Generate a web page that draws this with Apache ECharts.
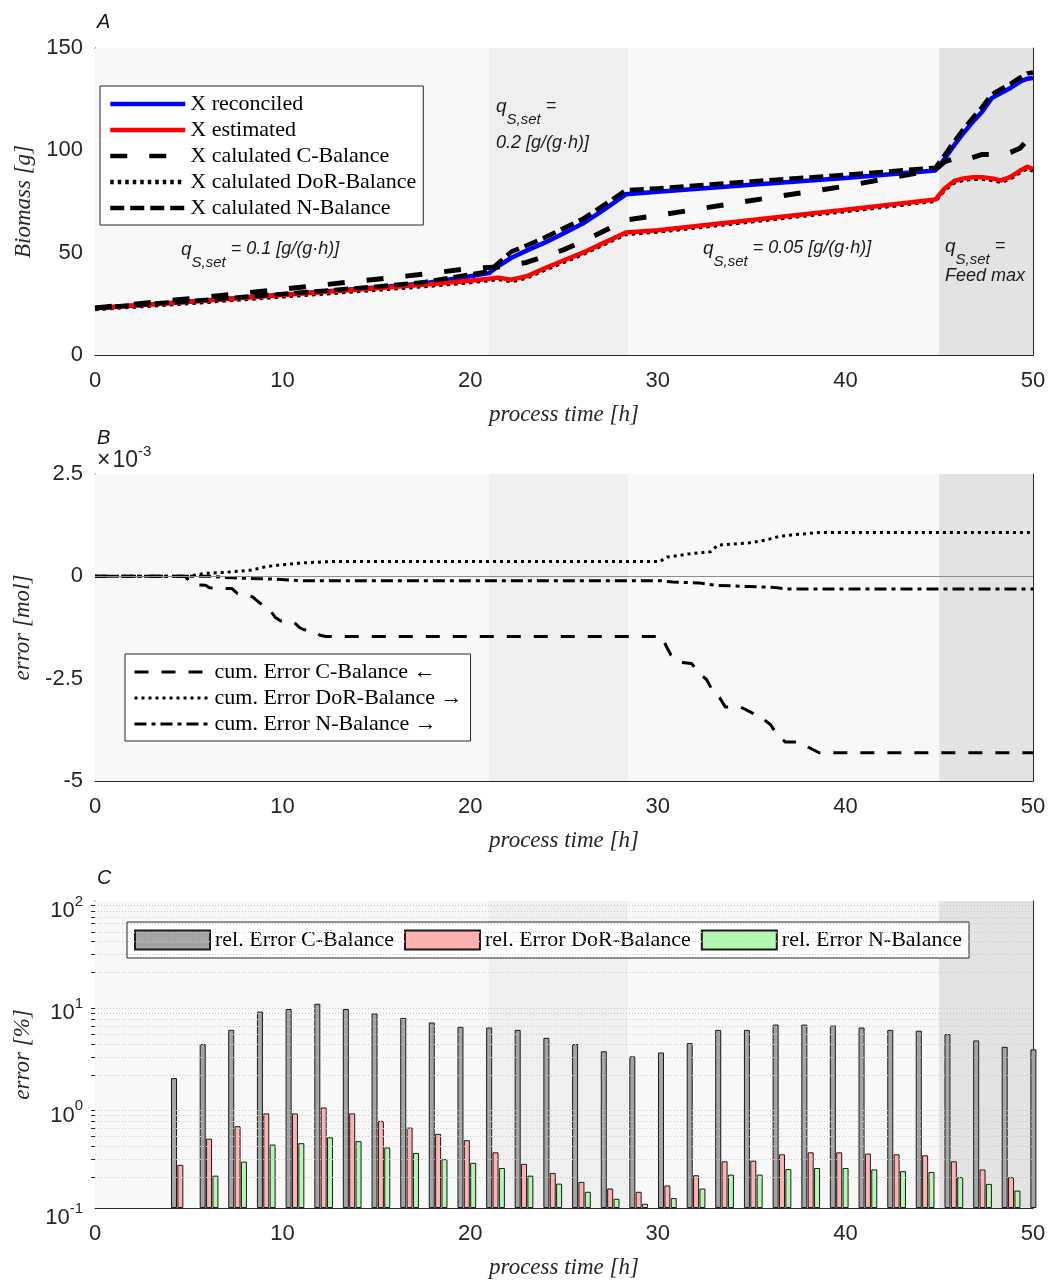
<!DOCTYPE html>
<html><head><meta charset="utf-8">
<script src="https://cdn.jsdelivr.net/npm/echarts@6/dist/echarts.min.js"></script>
<style>html,body{margin:0;padding:0;background:#fff}#c{width:1050px;height:1284px}</style>
</head><body><div id="c"></div>
<script>
// ---------- Panel A: biomass [g] ----------
const timeA = [0, 5, 10, 15, 17.5, 20, 21, 21.5, 22.2, 23, 24, 25, 26, 27, 28.3, 30, 35, 40, 44.8, 45.3, 45.8, 46.3, 46.8, 47.3, 47.8, 48.3, 48.8, 49.3, 49.7, 50];
const xReconciled = [22.8, 26.0, 29.5, 33.0, 35.0, 38.5, 40.0, 43.5, 47.5, 51.0, 55.0, 59.5, 64.2, 70.2, 78.5, 79.8, 83.2, 86.5, 90.2, 96.0, 102.5, 108.5, 114.0, 119.0, 125.5, 128.0, 130.5, 133.5, 135.0, 135.3];
const xEstimated = [22.8, 26.0, 29.3, 32.6, 34.3, 36.3, 37.3, 37.8, 36.8, 38.5, 42.5, 46.3, 50.0, 54.3, 59.8, 61.0, 66.0, 71.0, 76.0, 81.5, 85.0, 86.3, 86.8, 86.8, 86.3, 85.3, 87.0, 90.0, 92.0, 90.8];
const xCBalance = [23.0, 27.5, 32.2, 37.0, 39.5, 42.3, 42.8, 43.0, 44.0, 45.2, 48.2, 51.5, 55.5, 60.0, 66.0, 68.2, 75.5, 82.5, 90.5, 94.5, 96.0, 95.0, 96.5, 98.0, 98.0, 97.8, 99.0, 101.0, 105.0, 102.0];
const xDoRBalance = [22.2, 25.2, 28.4, 31.7, 33.4, 35.4, 36.4, 36.9, 35.9, 37.6, 41.6, 45.4, 49.1, 53.4, 58.9, 60.1, 65.1, 70.1, 75.1, 80.6, 84.1, 85.4, 85.9, 85.9, 85.4, 84.4, 86.1, 89.1, 91.1, 89.9];
const xNBalance = [23.0, 26.3, 29.8, 33.4, 35.5, 39.4, 40.8, 45.0, 50.5, 53.5, 57.5, 62.0, 66.5, 72.5, 80.5, 81.4, 84.8, 88.0, 91.5, 97.8, 104.3, 110.5, 116.0, 121.2, 127.3, 130.0, 132.5, 135.5, 137.5, 138.0];

// ---------- Panel B: cumulative error [x1e-3 mol] ----------
const timeCumC = [0, 4.8, 5.2, 5.9, 6.1, 7.3, 7.6, 7.9, 8.4, 8.7, 9.0, 9.3, 9.6, 9.9, 10.6, 10.9, 11.1, 11.7, 12.0, 12.3, 30.2, 30.5, 30.7, 31.2, 31.8, 32.2, 32.6, 32.9, 33.3, 33.6, 34.4, 35.0, 35.5, 36.0, 36.3, 36.8, 37.5, 38.0, 38.6, 50];
const cumErrC = [0, 0, -0.2, -0.22, -0.28, -0.3, -0.42, -0.46, -0.5, -0.62, -0.73, -0.8, -1.0, -1.09, -1.12, -1.25, -1.3, -1.35, -1.44, -1.47, -1.47, -1.75, -1.92, -2.1, -2.13, -2.37, -2.52, -2.78, -2.97, -3.19, -3.19, -3.33, -3.44, -3.62, -3.82, -4.05, -4.05, -4.17, -4.31, -4.31];
const timeCumDoR = [0, 5.0, 5.8, 7.0, 8.3, 9.15, 9.9, 11.1, 12.5, 30.1, 30.5, 31.7, 32.8, 33.2, 34.9, 35.8, 36.5, 37.6, 38.6, 50];
const cumErrDoR = [0, 0, 0.07, 0.1, 0.15, 0.24, 0.28, 0.33, 0.36, 0.36, 0.47, 0.55, 0.6, 0.76, 0.82, 0.89, 0.98, 1.03, 1.07, 1.07];
const timeCumN = [0, 6.1, 7.0, 8.8, 9.7, 11.1, 30.2, 30.8, 32.2, 33.1, 34.9, 36.2, 36.9, 50];
const cumErrN = [0, 0, -0.03, -0.06, -0.07, -0.11, -0.11, -0.14, -0.16, -0.22, -0.25, -0.27, -0.31, -0.31];

// ---------- Panel C: relative error [%] ----------
const sampleTimes = [4.55, 6.08, 7.60, 9.13, 10.66, 12.19, 13.71, 15.24, 16.77, 18.29, 19.82, 21.35, 22.87, 24.40, 25.93, 27.46, 28.98, 30.51, 32.04, 33.56, 35.09, 36.62, 38.15, 39.67, 41.20, 42.73, 44.25, 45.78, 47.31, 48.83, 50.36];
const relErrC = [1.86, 4.0, 5.5, 8.3, 8.8, 9.9, 8.8, 7.95, 7.2, 6.5, 5.9, 5.8, 5.5, 4.6, 4.0, 3.4, 3.03, 3.31, 4.09, 5.5, 5.5, 6.2, 6.2, 6.07, 5.8, 5.5, 5.4, 5.0, 4.34, 3.76, 3.55];
const relErrDoR = [0.264, 0.476, 0.63, 0.84, 0.84, 0.96, 0.84, 0.71, 0.61, 0.53, 0.46, 0.35, 0.27, 0.22, 0.18, 0.155, 0.144, 0.166, 0.209, 0.286, 0.29, 0.335, 0.35, 0.35, 0.34, 0.335, 0.327, 0.286, 0.238, 0.20, null];
const relErrN = [null, 0.207, 0.284, 0.417, 0.43, 0.49, 0.45, 0.39, 0.345, 0.30, 0.276, 0.246, 0.207, 0.173, 0.144, 0.123, 0.11, 0.125, 0.155, 0.212, 0.212, 0.24, 0.246, 0.246, 0.238, 0.229, 0.225, 0.20, 0.172, 0.148, null];

// ---------- phases, ticks ----------
const phaseBounds = [21, 28.4, 45, 50];
const xTicks = {min: 0, max: 50, interval: 10};
const minorLogTicks = [0.2, 0.3, 0.4, 0.5, 0.6, 0.7, 0.8, 0.9, 2, 3, 4, 5, 6, 7, 8, 9, 20, 30, 40, 50, 60, 70, 80, 90];

const SANS = 'Liberation Sans', SERIF = 'Liberation Serif';
const INK = '#262626', GRIDC = '#dcdcdc';
const pairs = (xs, ys) => xs.map((x, i) => [x, ys[i] == null ? '-' : ys[i]]);

const chart = echarts.init(document.getElementById('c'), null, {renderer: 'canvas', width: 1050, height: 1284});

const tops = [48, 474, 901];
const grid = tops.map(t => ({left: 95, right: 17, top: t, height: 307, containLabel: false, outerBoundsMode: 'none'}));

const tickStyle = {show: true, inside: true, length: 8, lineStyle: {color: INK, width: 1}};
const lineStyleAxis = {show: true, onZero: false, lineStyle: {color: INK, width: 1}};
const nameStyle = {fontFamily: SERIF, fontStyle: 'italic', fontSize: 23, color: INK};
const labelStyle = {fontFamily: SANS, fontSize: 22, color: INK};

const xAxis = [];
[0, 1, 2].forEach(i => xAxis.push({
  type: 'value', gridIndex: i, position: 'bottom', min: xTicks.min, max: xTicks.max, interval: xTicks.interval,
  axisLine: lineStyleAxis, axisTick: tickStyle,
  axisLabel: Object.assign({margin: 15}, labelStyle),
  splitLine: {show: true, lineStyle: {color: GRIDC, width: 1}},
  name: 'process time [h]', nameLocation: 'middle', nameGap: 48, nameTextStyle: nameStyle
}));
[0, 1, 2].forEach(i => xAxis.push({
  type: 'value', gridIndex: i, position: 'top', min: xTicks.min, max: xTicks.max, interval: xTicks.interval,
  axisLine: lineStyleAxis, axisTick: tickStyle, axisLabel: {show: false}, splitLine: {show: false}
}));

const yName = (n) => ({name: n, nameLocation: 'middle', nameGap: 53, nameRotate: 90, nameTextStyle: nameStyle});
const logLabel = {
  margin: 12, padding: [14, 0, 0, 0],
  formatter: v => '{b|10}{e|' + Math.round(Math.log10(v)) + '}',
  rich: {
    b: {fontFamily: SANS, fontSize: 22, color: INK, verticalAlign: 'bottom', lineHeight: 28},
    e: {fontFamily: SANS, fontSize: 15, color: INK, verticalAlign: 'top', lineHeight: 28}
  }
};
const yAxis = [
  Object.assign({type: 'value', gridIndex: 0, position: 'left', min: 0, max: 150, interval: 50,
    axisLine: lineStyleAxis, axisTick: tickStyle, axisLabel: Object.assign({margin: 12}, labelStyle),
    splitLine: {show: true, lineStyle: {color: GRIDC, width: 1}}}, yName('Biomass [g]')),
  Object.assign({type: 'value', gridIndex: 1, position: 'left', min: -5, max: 2.5, interval: 2.5,
    axisLine: lineStyleAxis, axisTick: tickStyle, axisLabel: Object.assign({margin: 12}, labelStyle),
    splitLine: {show: true, lineStyle: {color: GRIDC, width: 1}}}, yName('error [mol]')),
  Object.assign({type: 'log', logBase: 10, gridIndex: 2, position: 'left', min: 0.1, max: 100, startValue: 0.1,
    axisLine: lineStyleAxis, axisTick: tickStyle, axisLabel: logLabel,
    splitLine: {show: true, lineStyle: {color: GRIDC, width: 1}}}, yName('error [%]')),
  {type: 'value', gridIndex: 0, position: 'right', min: 0, max: 150, interval: 50, axisLine: lineStyleAxis, axisTick: tickStyle, axisLabel: {show: false}, splitLine: {show: false}},
  {type: 'value', gridIndex: 1, position: 'right', min: -5, max: 2.5, interval: 2.5, axisLine: lineStyleAxis, axisTick: tickStyle, axisLabel: {show: false}, splitLine: {show: false}},
  {type: 'log', logBase: 10, gridIndex: 2, position: 'right', min: 0.1, max: 100, axisLine: lineStyleAxis, axisTick: tickStyle, axisLabel: {show: false}, splitLine: {show: false}},
  {type: 'log', logBase: 10, gridIndex: 2, position: 'left', min: 0.1, max: 100, axisLine: {show: false},
    axisTick: {show: true, inside: true, length: 4, customValues: minorLogTicks, lineStyle: {color: INK}}, axisLabel: {show: false}, splitLine: {show: false}},
  {type: 'log', logBase: 10, gridIndex: 2, position: 'right', min: 0.1, max: 100, axisLine: {show: false},
    axisTick: {show: true, inside: true, length: 4, customValues: minorLogTicks, lineStyle: {color: INK}}, axisLabel: {show: false}, splitLine: {show: false}}
];

const bgSeries = [0, 1, 2].map(i => ({
  type: 'line', name: '_bg' + i, xAxisIndex: i, yAxisIndex: i, data: [], z: -2, silent: true,
  markArea: {silent: true, data: [
    [{xAxis: xTicks.min, itemStyle: {color: '#f8f8f8'}}, {xAxis: xTicks.max}],
    [{xAxis: phaseBounds[0], itemStyle: {color: '#efefef'}}, {xAxis: phaseBounds[1]}],
    [{xAxis: phaseBounds[2], itemStyle: {color: '#e3e3e3'}}, {xAxis: phaseBounds[3]}]
  ]}
}));

const lineS = (name, xs, ys, gi, color, width, type, z) => ({
  type: 'line', name, xAxisIndex: gi, yAxisIndex: gi, data: pairs(xs, ys),
  symbol: 'none', showSymbol: false, z: z || 2,
  lineStyle: {color, width, type, cap: 'butt', join: 'round'}, itemStyle: {color}
});

const series = [
  ...bgSeries,
  {type: 'line', name: '_minor', xAxisIndex: 2, yAxisIndex: 2, data: [], z: -1, silent: true,
    markLine: {silent: true, symbol: 'none', label: {show: false}, animation: false,
      lineStyle: {color: '#c9c9c9', type: [1, 2], width: 1},
      data: minorLogTicks.map(v => ({yAxis: v}))}},
  {type: 'line', name: '_zero', xAxisIndex: 1, yAxisIndex: 1, data: [], z: 1, silent: true,
    markLine: {silent: true, symbol: 'none', label: {show: false}, animation: false,
      lineStyle: {color: '#8c8c8c', type: 'solid', width: 1.2}, data: [{yAxis: 0}]}},
  // panel A
  lineS('X calulated DoR-Balance', timeA, xDoRBalance, 0, '#000', 3.5, [3.5, 4]),
  lineS('X reconciled', timeA, xReconciled, 0, '#0000ff', 4.5, 'solid'),
  lineS('X estimated', timeA, xEstimated, 0, '#ff0000', 4.5, 'solid'),
  lineS('X calulated C-Balance', timeA, xCBalance, 0, '#000', 5, [17, 22]),
  lineS('X calulated N-Balance', timeA, xNBalance, 0, '#000', 4.5, [14, 6]),
  // panel B
  lineS('cum. Error C-Balance \u2190', timeCumC, cumErrC, 1, '#000', 3, [14, 13]),
  lineS('cum. Error DoR-Balance \u2192', timeCumDoR, cumErrDoR, 1, '#000', 3, [3, 4]),
  lineS('cum. Error N-Balance \u2192', timeCumN, cumErrN, 1, '#000', 3, [12, 5, 4, 5]),
  // panel C
  {type: 'bar', name: 'rel. Error C-Balance', xAxisIndex: 2, yAxisIndex: 2, data: pairs(sampleTimes, relErrC),
    barWidth: 6, barGap: '6%', itemStyle: {color: '#a4a4a4', borderColor: '#1a1a1a', borderWidth: 1}},
  {type: 'bar', name: 'rel. Error DoR-Balance', xAxisIndex: 2, yAxisIndex: 2, data: pairs(sampleTimes, relErrDoR),
    barWidth: 6, barGap: '6%', itemStyle: {color: '#ffb0b0', borderColor: '#1a1a1a', borderWidth: 1}},
  {type: 'bar', name: 'rel. Error N-Balance', xAxisIndex: 2, yAxisIndex: 2, data: pairs(sampleTimes, relErrN),
    barWidth: 6, barGap: '6%', itemStyle: {color: '#b2f8b2', borderColor: '#1a1a1a', borderWidth: 1}}
];

const legendBase = {
  orient: 'vertical', selectedMode: false, itemWidth: 75, itemHeight: 20, itemGap: 4,
  backgroundColor: '#ffffff', borderColor: INK, borderWidth: 1, borderRadius: 0,
  itemStyle: {opacity: 0, borderWidth: 0},
  textStyle: {fontFamily: SERIF, fontSize: 22, color: '#000', lineHeight: 20}
};
const legend = [
  Object.assign({}, legendBase, {left: 100, top: 86, padding: [7, 7, 6, 8], lineStyle: {width: 4.5},
    data: ['X reconciled', 'X estimated', 'X calulated C-Balance', 'X calulated DoR-Balance', 'X calulated N-Balance']}),
  Object.assign({}, legendBase, {left: 125, top: 654, padding: [7, 8, 6, 8], lineStyle: {width: 3},
    data: ['cum. Error C-Balance \u2190', 'cum. Error DoR-Balance \u2192', 'cum. Error N-Balance \u2192']}),
  {orient: 'horizontal', selectedMode: false, left: 127, top: 922, padding: [7, 7, 7, 7], itemWidth: 75, itemHeight: 19, itemGap: 10,
    backgroundColor: '#ffffff', borderColor: INK, borderWidth: 1, borderRadius: 0,
    icon: 'rect', textStyle: {fontFamily: SERIF, fontSize: 22, color: '#000', lineHeight: 19},
    data: ['rel. Error C-Balance', 'rel. Error DoR-Balance', 'rel. Error N-Balance']}
];

const annRich = {
  q: {fontFamily: SANS, fontStyle: 'italic', fontSize: 19, fill: '#1a1a1a', verticalAlign: 'top', lineHeight: 19},
  s: {fontFamily: SANS, fontStyle: 'italic', fontSize: 15, fill: '#1a1a1a', verticalAlign: 'bottom', lineHeight: 30},
  t: {fontFamily: SANS, fontStyle: 'italic', fontSize: 18, fill: '#1a1a1a', verticalAlign: 'top', lineHeight: 19}
};
const ann = (left, top, text) => ({type: 'text', left, top, z: 100, style: {text, rich: annRich, fill: '#1a1a1a'}});
const plain = (left, top, text, size, italic, family) => ({type: 'text', left, top, z: 100,
  style: {text, fontFamily: family || SANS, fontSize: size, fontStyle: italic ? 'italic' : 'normal', fill: '#1a1a1a'}});

const graphic = [
  plain(97, 12, 'A', 20, true),
  plain(97, 428, 'B', 20, true),
  plain(97, 868, 'C', 20, true),
  {type: 'text', left: 97, top: 444, z: 100, style: {text: '{x|\u00d7}{a|10}{b|-3}', rich: {
    x: {fontFamily: SANS, fontSize: 23, fill: INK, verticalAlign: 'bottom', lineHeight: 28, padding: [0, 2, 0, 0]},
    a: {fontFamily: SANS, fontSize: 23, fill: INK, verticalAlign: 'bottom', lineHeight: 28},
    b: {fontFamily: SANS, fontSize: 15, fill: INK, verticalAlign: 'top', lineHeight: 28}}}},
  ann(181, 240, '{q|q}{s|S,set}{t| = 0.1 [g/(g\u00b7h)]}'),
  ann(496, 97, '{q|q}{s|S,set}{t| =}'),
  plain(496, 134, '0.2 [g/(g\u00b7h)]', 18, true),
  ann(703, 239, '{q|q}{s|S,set}{t| = 0.05 [g/(g\u00b7h)]}'),
  ann(945, 237, '{q|q}{s|S,set}{t| =}'),
  plain(945, 267, 'Feed max', 18, true)
];

chart.setOption({
  animation: false,
  backgroundColor: '#ffffff',
  grid, xAxis, yAxis, series, legend, graphic
});
</script>
</body></html>
